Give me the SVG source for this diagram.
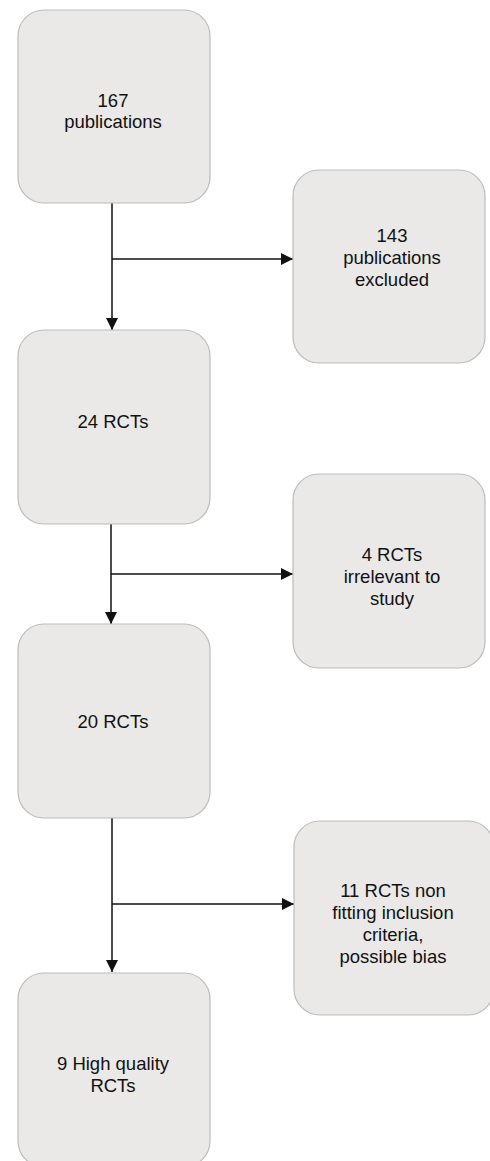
<svg xmlns="http://www.w3.org/2000/svg" width="490" height="1161" viewBox="0 0 490 1161">
<style>
.box{fill:#eae9e8;stroke:#bcbcbc;stroke-width:1.2}
.t{font-family:"Liberation Sans",Arial,Helvetica,sans-serif;font-size:18.5px;fill:#111;text-anchor:middle}
.c{fill:none;stroke:#111;stroke-width:1.5}
</style>
<defs>
<marker id="ah" markerUnits="userSpaceOnUse" markerWidth="12" markerHeight="12" viewBox="0 0 12 12" refX="12" refY="6" orient="auto">
<path d="M0,0 L12,6 L0,12 Z" fill="#111"/>
</marker>
</defs>
<rect width="490" height="1161" fill="#fff"/>
<g id="connectors">
<path class="c" d="M112,203 V330" marker-end="url(#ah)"/>
<path class="c" d="M112,259 H293" marker-end="url(#ah)"/>
<path class="c" d="M111,524 V624" marker-end="url(#ah)"/>
<path class="c" d="M111,574 H293" marker-end="url(#ah)"/>
<path class="c" d="M112,818 V972" marker-end="url(#ah)"/>
<path class="c" d="M112,904 H294" marker-end="url(#ah)"/>
</g>
<g id="n1">
<rect class="box" x="18" y="10" width="192" height="193" rx="26"/>
<text class="t" x="113" y="107">167</text>
<text class="t" x="113" y="128">publications</text>
</g>
<g id="n2">
<rect class="box" x="293" y="170" width="192" height="193" rx="26"/>
<text class="t" x="392" y="242">143</text>
<text class="t" x="392" y="264">publications</text>
<text class="t" x="392" y="286">excluded</text>
</g>
<g id="n3">
<rect class="box" x="18" y="330" width="192" height="194" rx="26"/>
<text class="t" x="113" y="428">24 RCTs</text>
</g>
<g id="n4">
<rect class="box" x="293" y="474" width="192" height="194" rx="26"/>
<text class="t" x="392" y="561">4 RCTs</text>
<text class="t" x="392" y="583">irrelevant to</text>
<text class="t" x="392" y="605">study</text>
</g>
<g id="n5">
<rect class="box" x="18" y="624" width="192" height="194" rx="26"/>
<text class="t" x="113" y="728">20 RCTs</text>
</g>
<g id="n6">
<rect class="box" x="294" y="821" width="200" height="194" rx="26"/>
<text class="t" x="393" y="897">11 RCTs non</text>
<text class="t" x="393" y="919">fitting inclusion</text>
<text class="t" x="393" y="941">criteria,</text>
<text class="t" x="393" y="963">possible bias</text>
</g>
<g id="n7">
<rect class="box" x="18" y="973" width="192" height="194" rx="26"/>
<text class="t" x="113" y="1070">9 High quality</text>
<text class="t" x="113" y="1092">RCTs</text>
</g>
</svg>
